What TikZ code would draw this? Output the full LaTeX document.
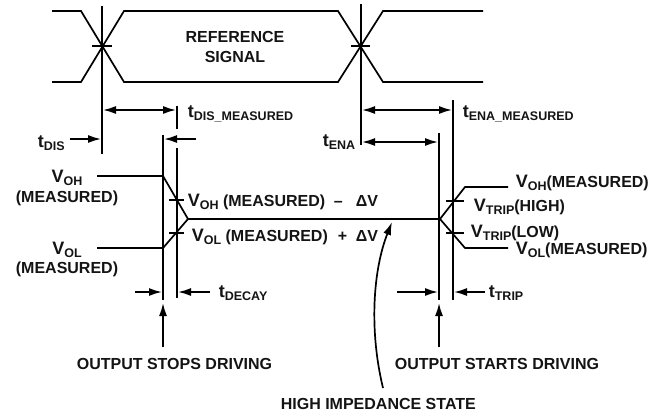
\documentclass[tikz,border=0pt]{standalone}
\usepackage{fontspec}
\setmainfont{Liberation Sans}
\usetikzlibrary{arrows.meta}
\newcommand\sbs[1]{\raisebox{-3pt}{\fontsize{12.5}{13}\selectfont #1}}
\newcommand\sym[1]{{\fontsize{18}{18}\selectfont #1}}
\begin{document}
\begin{tikzpicture}[x=1pt,y=-1pt,line width=1.7pt,
  >={Latex[length=13pt,width=8pt]},
  lbl/.style={font=\fontsize{16}{20}\selectfont\bfseries,inner sep=0pt,text=black!92},
  lw/.style={lbl,anchor=base west},
  le/.style={lbl,anchor=base east},
  lc/.style={lbl,anchor=base}]
\useasboundingbox (0,0) rectangle (663,412);
% reference signal
\draw (52,11) -- (81,11) -- (124,82) -- (338,82) -- (383,11) -- (483,11);
\draw (52,82) -- (81,82) -- (124,11) -- (338,11) -- (383,82) -- (483,82);
\draw (92,46) -- (112,46);
\draw (351,46) -- (370,46);
\coordinate (la) at (102,6);  \coordinate (lb) at (102,154);
\coordinate (ra) at (361,4);  \coordinate (rb) at (361,145);
\draw (la) -- (lb);
\draw (ra) -- (rb);
\node[lbl,align=center] (refsig) at (235,47) {REFERENCE\\SIGNAL};
% vertical marker lines
\coordinate (d1a) at (163,135); \coordinate (d1b) at (163,300);
\coordinate (d2a) at (177,106); \coordinate (d2b) at (177,129);
\coordinate (d2c) at (177,148); \coordinate (d2d) at (177,298);
\coordinate (e1a) at (439,133); \coordinate (e1b) at (439,300);
\coordinate (e2a) at (453,100); \coordinate (e2b) at (453,300);
\draw (d1a) -- (d1b);
\draw (d2a) -- (d2b);
\draw (d2c) -- (d2d);
\draw (e1a) -- (e1b);
\draw (e2a) -- (e2b);
% timing arrows
\draw[<->] (103,110) -- (176,110);
\node[lw] (tdism) at (187,117) {\sym{t}\sbs{DIS\_MEASURED}};
\node[lw] (tdis) at (37,147) {\sym{t}\sbs{DIS}};
\draw[->] (70,139) -- (101,139);
\draw[->] (196,139) -- (164,139);
\draw[<->] (362,110) -- (452,110);
\node[lw] (tenam) at (462,117) {\sym{t}\sbs{ENA\_MEASURED}};
\draw[<->] (362,142) -- (438,142);
\node[le] (tena) at (356,146) {\sym{t}\sbs{ENA}};
\draw[->] (135,292) -- (162,292);
\draw[->] (210,292) -- (178,292);
\node[lw] (tdecay) at (218,297) {\sym{t}\sbs{DECAY}};
\draw[->] (397,292) -- (438,292);
\draw[->] (485,292) -- (454,292);
\node[lw] (ttrip) at (488,297) {\sym{t}\sbs{TRIP}};
% output waveform
\coordinate (hz1) at (188,219); \coordinate (hz2) at (440,219);
\draw (97,176) -- (163,176) -- (hz1);
\draw (97,248) -- (163,248) -- (hz1);
\draw (hz1) -- (hz2);
\draw (hz2) -- (465,187) -- (508,187);
\draw (hz2) -- (465,248) -- (508,248);
\draw (169,200) -- (184,200);
\draw (169,233) -- (184,233);
\draw (446,201) -- (464,201);
\draw (446,233) -- (464,233);
% left labels
\node[lc] (voh) at (67,182) {\sym{V}\sbs{OH}};
\node[lc] (vohm) at (67,202) {(MEASURED)};
\node[lc] (vol) at (67,254) {\sym{V}\sbs{OL}};
\node[lc] (volm) at (67,273) {(MEASURED)};
% middle labels
\node[lw] (vohd) at (187,206) {\sym{V}\sbs{OH} (MEASURED)};
\node[lw] (minus) at (333,206) {–};
\node[lw] (dv1) at (355,206) {ΔV};
\node[lw] (vold) at (191,241) {\sym{V}\sbs{OL} (MEASURED)};
\node[lw] (plus) at (337,241) {+};
\node[lw] (dv2) at (355,241) {ΔV};
% right labels
\node[lw] (vohr) at (515,187) {\sym{V}\sbs{OH}(MEASURED)};
\node[lw] (vtrh) at (473,211) {\sym{V}\sbs{TRIP}(HIGH)};
\node[lw] (vtrl) at (470,237) {\sym{V}\sbs{TRIP}(LOW)};
\node[lw] (volr) at (515,254) {\sym{V}\sbs{OL}(MEASURED)};
% bottom labels and arrows
\node[lw] (stops) at (76,369) {OUTPUT STOPS DRIVING};
\node[lw] (starts) at (394,369) {OUTPUT STARTS DRIVING};
\node[lw] (hiz) at (280,409) {HIGH IMPEDANCE STATE};
\draw[->] (163,347) -- (163,303);
\draw[->] (439,347) -- (439,303);
\coordinate (hzt) at (392,222);
\draw[->] (383,388) .. controls (369,330) and (373,270) .. (hzt);
\end{tikzpicture}
\end{document}
